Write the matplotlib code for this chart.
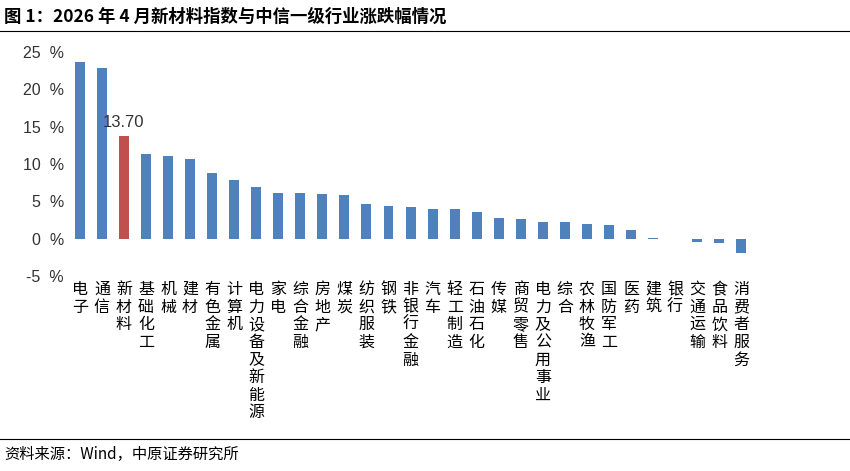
import matplotlib
matplotlib.use("Agg")
import matplotlib.pyplot as plt

plt.rcParams['font.family'] = ['Noto Sans CJK SC', 'DejaVu Sans']

categories = ["电子","通信","新材料","基础化工","机械","建材","有色金属","计算机","电力设备及新能源",
              "家电","综合金融","房地产","煤炭","纺织服装","钢铁","非银行金融","汽车","轻工制造",
              "石油石化","传媒","商贸零售","电力及公用事业","综合","农林牧渔","国防军工","医药",
              "建筑","银行","交通运输","食品饮料","消费者服务"]
values = [23.6,22.8,13.7,11.3,11.0,10.7,8.8,7.9,6.9,6.1,6.1,6.0,5.9,4.6,4.4,4.3,4.0,4.0,3.6,
          2.8,2.6,2.2,2.2,2.0,1.8,1.2,0.1,0.0,-0.5,-0.6,-1.9]
yticks = [-5,0,5,10,15,20,25]
highlight = "新材料"

fig = plt.figure(figsize=(8.5,4.71), dpi=100)
ax = fig.add_axes([0.081,0.414,0.804,0.476])
colors = ['#C0504D' if c == highlight else '#4F81BD' for c in categories]
x = range(len(categories))
ax.bar(x, values, width=0.45, color=colors)
ax.set_xlim(-0.5, len(categories)-0.5)
ax.set_ylim(-5, 25)
ax.set_yticks(yticks)
ax.set_yticklabels([f"{t}  %" for t in yticks], fontsize=11.5, color='#333333', family=['Liberation Sans'])
ax.set_xticks(list(x))
ax.set_xticklabels(['\n'.join(c) for c in categories], fontsize=11.5, va='top', linespacing=1.05)
ax.tick_params(length=0)
for s in ax.spines.values():
    s.set_visible(False)
i = categories.index(highlight)
ax.text(i, values[i]+0.8, f"{values[i]:.2f}", ha='center', va='bottom', fontsize=12, color='#333333',
        family=['Liberation Sans'])

fig.text(0.005, 0.965, "图 1：2026 年 4 月新材料指数与中信一级行业涨跌幅情况", fontsize=12.5, fontweight='bold', va='center')
fig.add_artist(plt.Line2D([0,1],[0.935,0.935], color='black', lw=0.8))
fig.add_artist(plt.Line2D([0,1],[0.068,0.068], color='black', lw=0.8))
fig.text(0.005, 0.035, "资料来源：Wind，中原证券研究所", fontsize=11, va='center')
fig.savefig("out.png", dpi=100)
